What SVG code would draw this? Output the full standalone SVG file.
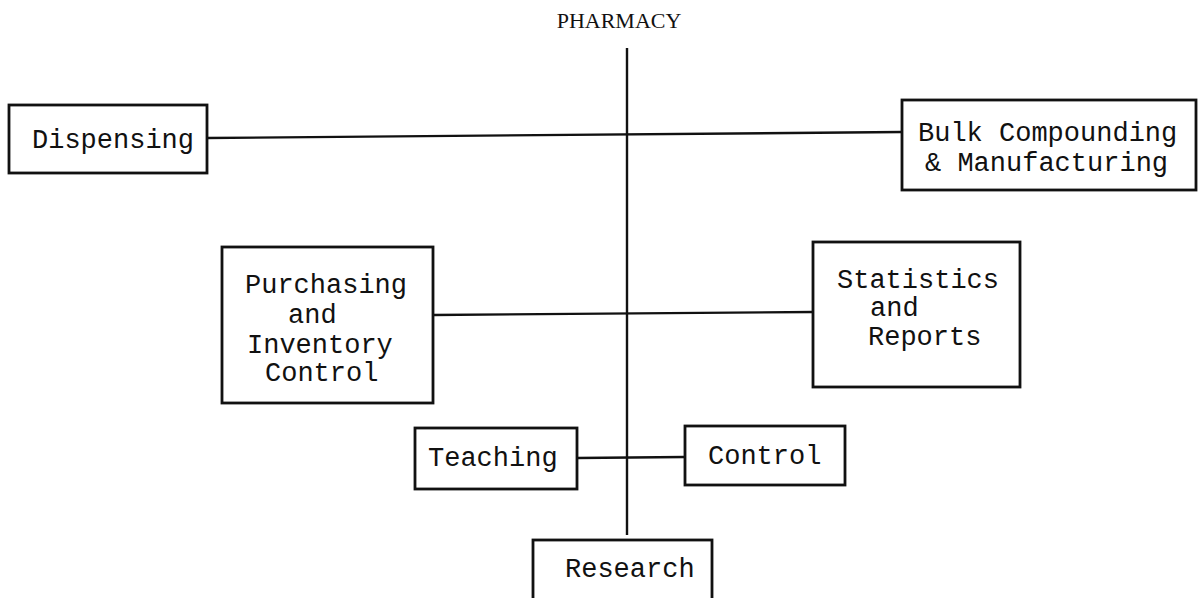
<svg xmlns="http://www.w3.org/2000/svg" width="1198" height="598" viewBox="0 0 1198 598">
<style>
.box{fill:#fff;stroke:#111;stroke-width:2.8}
.ln{stroke:#111;stroke-width:2.4;fill:none}
.t{font-family:"Liberation Mono","Courier New",monospace;font-size:27px;fill:#111}
.h{font-family:"Liberation Serif","Times New Roman",serif;font-size:22px;fill:#111}
</style>
<rect width="1198" height="598" fill="#fff"/>
<text class="h" x="619" y="28" text-anchor="middle">PHARMACY</text>
<g id="connectors">
<line class="ln" x1="627" y1="48" x2="627" y2="535"/>
<line class="ln" x1="207" y1="138" x2="902" y2="132"/>
<line class="ln" x1="433" y1="315" x2="813" y2="312"/>
<line class="ln" x1="577" y1="458" x2="685" y2="457"/>
</g>
<g id="dispensing">
<rect class="box" x="9" y="105" width="198" height="68"/>
<text class="t" x="32" y="148">Dispensing</text>
</g>
<g id="bulk">
<rect class="box" x="902" y="100" width="294" height="90"/>
<text class="t" x="918" y="141">Bulk Compounding</text>
<text class="t" x="925" y="171">&amp; Manufacturing</text>
</g>
<g id="purchasing">
<rect class="box" x="222" y="247" width="211" height="156"/>
<text class="t" x="245" y="293">Purchasing</text>
<text class="t" x="288" y="323">and</text>
<text class="t" x="247" y="353">Inventory</text>
<text class="t" x="265" y="381">Control</text>
</g>
<g id="statistics">
<rect class="box" x="813" y="242" width="207" height="145"/>
<text class="t" x="837" y="288">Statistics</text>
<text class="t" x="870" y="316">and</text>
<text class="t" x="868" y="345">Reports</text>
</g>
<g id="teaching">
<rect class="box" x="415" y="428" width="162" height="61"/>
<text class="t" x="428" y="466">Teaching</text>
</g>
<g id="control">
<rect class="box" x="685" y="426" width="160" height="59"/>
<text class="t" x="708" y="464">Control</text>
</g>
<g id="research">
<rect class="box" x="533" y="540" width="179" height="70"/>
<text class="t" x="565" y="577">Research</text>
</g>
</svg>
